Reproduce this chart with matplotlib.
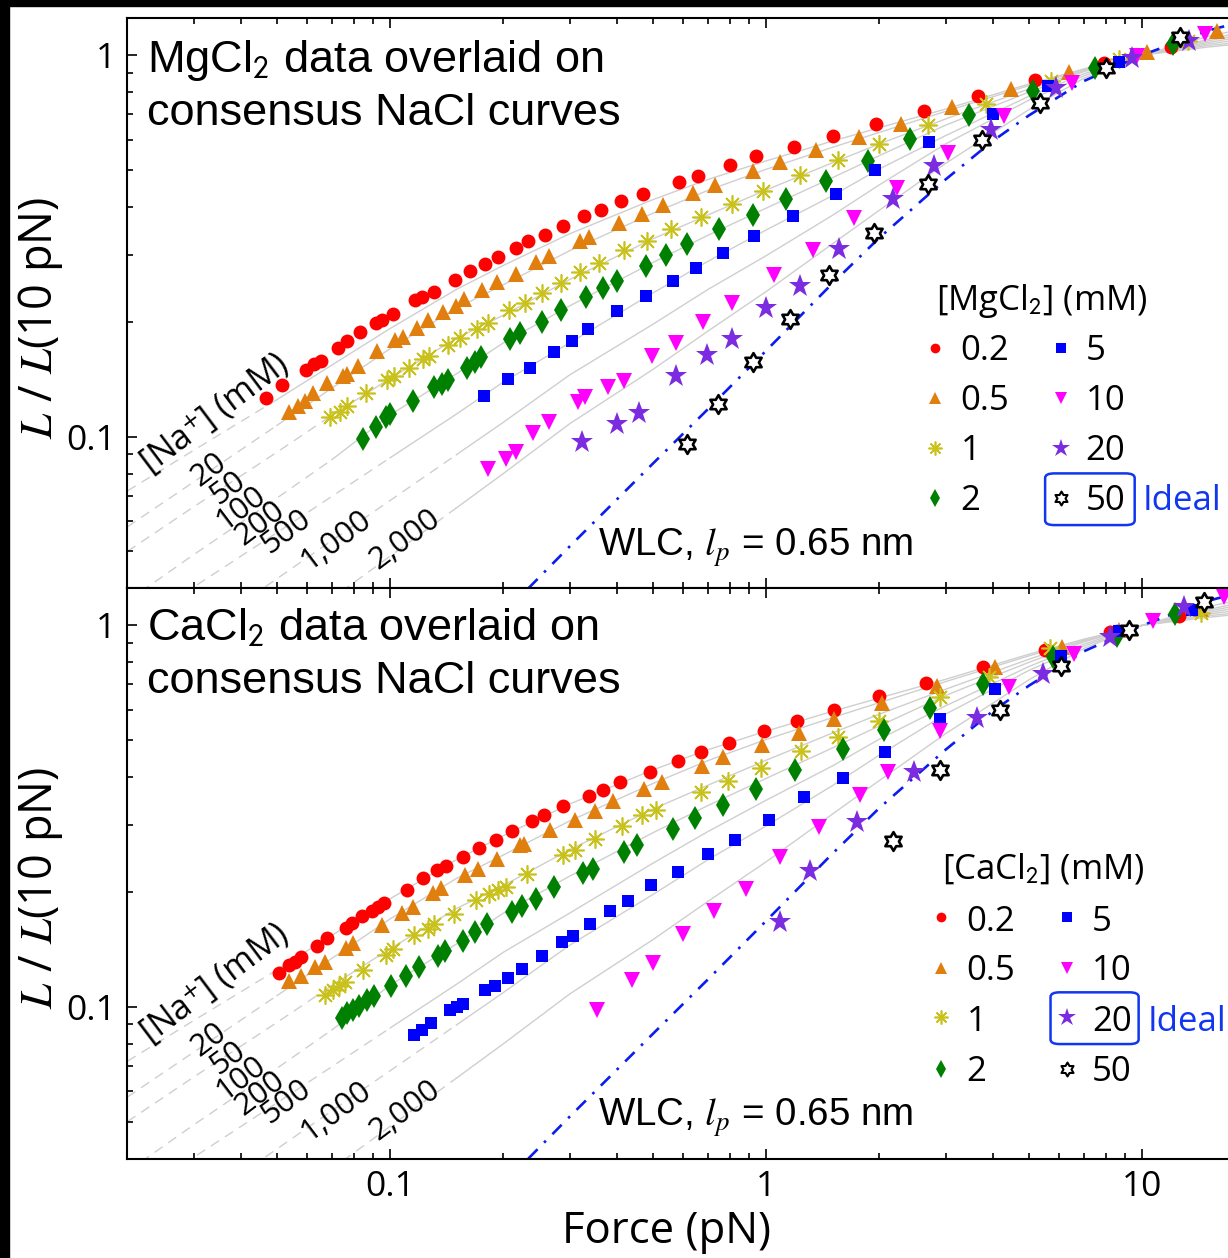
import numpy as np
import matplotlib
matplotlib.use('Agg')
import matplotlib.pyplot as plt
from matplotlib.path import Path
from matplotlib.patches import FancyBboxPatch, Rectangle
from matplotlib.ticker import LogLocator, NullFormatter

plt.rcParams['font.family'] = ['Open Sans', 'DejaVu Sans']
plt.rcParams['mathtext.fontset'] = 'stix'

# ---- consensus NaCl curves ----
nacl_labels = ['20', '50', '100', '200', '500', '1,000', '2,000']
curve_force = [0.02, 0.03, 0.05, 0.07, 0.1, 0.15, 0.2, 0.3, 0.5, 0.7, 1, 1.5, 2, 3, 5, 7, 10, 15, 20]
nacl_20 = [0.072, 0.092, 0.125, 0.154, 0.192, 0.243, 0.281, 0.340, 0.418, 0.472, 0.528, 0.595, 0.645, 0.722, 0.840, 0.920, 1.0, 1.05, 1.08]
nacl_50 = [0.058, 0.076, 0.107, 0.134, 0.170, 0.217, 0.250, 0.307, 0.385, 0.442, 0.502, 0.573, 0.627, 0.712, 0.832, 0.915, 1.0, 1.06, 1.09]
nacl_100 = [0.050, 0.0654, 0.091, 0.1137, 0.142, 0.181, 0.208, 0.258, 0.330, 0.381, 0.443, 0.522, 0.585, 0.680, 0.815, 0.910, 1.0, 1.07, 1.11]
nacl_200 = [0.037, 0.049, 0.069, 0.087, 0.114, 0.146, 0.176, 0.220, 0.286, 0.337, 0.397, 0.477, 0.545, 0.655, 0.800, 0.905, 1.0, 1.08, 1.13]
nacl_500 = [0.031, 0.0403, 0.056, 0.0697, 0.088, 0.1145, 0.139, 0.176, 0.238, 0.288, 0.348, 0.428, 0.503, 0.615, 0.780, 0.893, 1.0, 1.09, 1.15]
nacl_1000 = [0.023, 0.030, 0.0424, 0.0534, 0.068, 0.0896, 0.109, 0.145, 0.197, 0.243, 0.298, 0.380, 0.457, 0.585, 0.762, 0.882, 1.0, 1.10, 1.17]
nacl_2000 = [0.015, 0.0205, 0.0295, 0.0376, 0.0486, 0.065, 0.080, 0.108, 0.150, 0.189, 0.240, 0.320, 0.392, 0.520, 0.720, 0.870, 1.0, 1.12, 1.19]
nacl_curves = [nacl_20, nacl_50, nacl_100, nacl_200, nacl_500, nacl_1000, nacl_2000]
solid_from = [0.05, 0.05, 0.07, 0.07, 0.1, 0.15, 0.15]

# ideal WLC, lp = 0.65 nm
wlc_force = [0.233, 0.3, 0.5, 0.7, 1, 1.5, 2, 3, 4, 5, 7, 10, 15, 20]
wlc_ext = [0.040, 0.0515, 0.085, 0.118, 0.168, 0.252, 0.332, 0.472, 0.595, 0.695, 0.855, 1.0, 1.16, 1.25]

conc_labels = ['0.2', '0.5', '1', '2', '5', '10', '20', '50']

# ---- MgCl2 data ----
mg_02_f = [0.0467, 0.0517, 0.0598, 0.0628, 0.0654, 0.0726, 0.0768, 0.0831, 0.0916, 0.0954, 0.102, 0.1166, 0.1214, 0.1307, 0.1489, 0.1633, 0.1789, 0.1941, 0.216, 0.2332, 0.2584, 0.289, 0.3275, 0.3641, 0.4108, 0.4717, 0.5881, 0.6568, 0.8022, 0.9406, 1.187, 1.51, 1.962, 2.627, 3.648, 5.184, 7.91, 11.92]
mg_02_y = [0.1263, 0.1368, 0.1495, 0.155, 0.1581, 0.1703, 0.1777, 0.1883, 0.1981, 0.202, 0.2091, 0.228, 0.2317, 0.2396, 0.2572, 0.2716, 0.2833, 0.296, 0.3125, 0.3248, 0.3373, 0.356, 0.3781, 0.3928, 0.4148, 0.4311, 0.4662, 0.4834, 0.5164, 0.5429, 0.5743, 0.6152, 0.6587, 0.7152, 0.7795, 0.8602, 0.953, 1.052]
mg_05_f = [0.0539, 0.057, 0.0594, 0.0625, 0.0678, 0.0751, 0.077, 0.082, 0.092, 0.103, 0.108, 0.118, 0.126, 0.1386, 0.15, 0.157, 0.175, 0.192, 0.216, 0.244, 0.265, 0.32, 0.338, 0.405, 0.468, 0.531, 0.64, 0.73, 0.92, 1.09, 1.36, 1.77, 2.29, 3.12, 4.48, 6.4, 10.3, 15.8]
mg_05_y = [0.1163, 0.1203, 0.124, 0.1297, 0.1384, 0.1444, 0.146, 0.153, 0.1672, 0.179, 0.182, 0.192, 0.2024, 0.2125, 0.2203, 0.229, 0.2425, 0.2548, 0.267, 0.286, 0.2975, 0.325, 0.333, 0.362, 0.383, 0.404, 0.436, 0.456, 0.497, 0.523, 0.565, 0.61, 0.661, 0.729, 0.813, 0.903, 1.016, 1.155]
mg_1_f = [0.0693, 0.0736, 0.077, 0.0862, 0.098, 0.1025, 0.1125, 0.122, 0.127, 0.1425, 0.153, 0.17, 0.182, 0.207, 0.228, 0.254, 0.284, 0.32, 0.36, 0.419, 0.481, 0.56, 0.669, 0.81, 0.98, 1.23, 1.55, 1.99, 2.7, 3.85, 5.73, 8.7, 13.2]
mg_1_y = [0.1124, 0.116, 0.1201, 0.1297, 0.1405, 0.1437, 0.1517, 0.1598, 0.1628, 0.174, 0.181, 0.191, 0.1983, 0.2147, 0.2242, 0.2383, 0.2523, 0.2698, 0.2857, 0.308, 0.3262, 0.3497, 0.3754, 0.408, 0.441, 0.484, 0.53, 0.584, 0.655, 0.746, 0.855, 0.976, 1.088]
mg_2_f = [0.0845, 0.0918, 0.0976, 0.1, 0.1153, 0.131, 0.137, 0.1425, 0.16, 0.168, 0.174, 0.208, 0.221, 0.254, 0.285, 0.332, 0.368, 0.4, 0.48, 0.54, 0.617, 0.75, 0.92, 1.13, 1.44, 1.86, 2.42, 3.46, 5.13, 7.5, 12.1]
mg_2_y = [0.0987, 0.1057, 0.1124, 0.1144, 0.124, 0.1346, 0.1373, 0.1404, 0.1517, 0.157, 0.162, 0.18, 0.1873, 0.1995, 0.2147, 0.2319, 0.2445, 0.256, 0.28, 0.2995, 0.3195, 0.3497, 0.382, 0.42, 0.468, 0.528, 0.604, 0.695, 0.805, 0.927, 1.071]
mg_5_f = [0.178, 0.206, 0.236, 0.273, 0.304, 0.335, 0.4, 0.479, 0.566, 0.649, 0.77, 0.93, 1.18, 1.53, 1.95, 2.71, 4.0, 5.63, 8.7]
mg_5_y = [0.128, 0.1413, 0.151, 0.1665, 0.1777, 0.1919, 0.2135, 0.233, 0.2551, 0.2762, 0.3034, 0.336, 0.379, 0.432, 0.499, 0.59, 0.699, 0.828, 0.959]
mg_10_f = [0.182, 0.203, 0.216, 0.24, 0.264, 0.316, 0.33, 0.379, 0.419, 0.498, 0.575, 0.68, 0.81, 1.05, 1.33, 1.71, 2.23, 3.05, 4.3, 6.5, 9.7, 14.7]
mg_10_y = [0.0824, 0.0873, 0.0911, 0.102, 0.109, 0.1234, 0.127, 0.135, 0.14, 0.1626, 0.1756, 0.1996, 0.2243, 0.2646, 0.308, 0.373, 0.447, 0.555, 0.691, 0.845, 0.992, 1.133]
mg_20_f = [0.323, 0.402, 0.458, 0.576, 0.695, 0.81, 0.996, 1.23, 1.56, 2.17, 2.8, 3.97, 5.9, 9.4, 13.3]
mg_20_y = [0.0967, 0.1079, 0.1151, 0.1442, 0.1636, 0.1802, 0.2169, 0.2484, 0.3094, 0.4191, 0.5123, 0.635, 0.82, 0.982, 1.088]
mg_50_f = [0.617, 0.745, 0.92, 1.16, 1.47, 1.94, 2.7, 3.75, 5.34, 8.0, 12.6]
mg_50_y = [0.0957, 0.1218, 0.1571, 0.2029, 0.2651, 0.3427, 0.4587, 0.6005, 0.749, 0.927, 1.115]

# ---- CaCl2 data ----
ca_02_f = [0.0505, 0.0539, 0.0558, 0.0579, 0.0637, 0.0678, 0.0764, 0.0791, 0.0844, 0.0897, 0.0927, 0.0962, 0.1108, 0.1226, 0.1336, 0.1409, 0.1566, 0.1724, 0.1914, 0.2114, 0.2382, 0.2568, 0.289, 0.3369, 0.3679, 0.4073, 0.4915, 0.5822, 0.6716, 0.7987, 0.988, 1.207, 1.517, 2.001, 2.658, 3.765, 5.53, 8.19, 12.52]
ca_02_y = [0.1227, 0.1286, 0.1311, 0.1347, 0.1442, 0.1511, 0.1614, 0.1659, 0.1727, 0.1784, 0.1827, 0.1872, 0.2029, 0.2176, 0.228, 0.2335, 0.247, 0.2608, 0.2744, 0.2884, 0.3062, 0.3175, 0.3352, 0.3568, 0.3692, 0.3882, 0.4123, 0.4406, 0.4651, 0.4922, 0.5278, 0.5628, 0.6016, 0.6527, 0.7079, 0.7764, 0.8623, 0.9587, 1.06]
ca_05_f = [0.0539, 0.058, 0.0632, 0.067, 0.0764, 0.0798, 0.095, 0.1076, 0.1153, 0.1297, 0.1369, 0.1583, 0.1717, 0.1922, 0.2217, 0.2272, 0.2664, 0.3105, 0.351, 0.3925, 0.4728, 0.5289, 0.6738, 0.7698, 0.9727, 1.225, 1.519, 2.038, 2.839, 4.052, 6.118, 8.7, 14.32]
ca_05_y = [0.117, 0.1206, 0.1273, 0.1311, 0.1422, 0.1471, 0.1636, 0.1762, 0.1831, 0.1991, 0.2054, 0.2212, 0.2303, 0.2446, 0.2651, 0.2667, 0.2914, 0.3094, 0.3253, 0.347, 0.3714, 0.3894, 0.4267, 0.4505, 0.4858, 0.5227, 0.5689, 0.6249, 0.6941, 0.7796, 0.8757, 0.975, 1.104]
ca_1_f = [0.067, 0.0704, 0.0731, 0.0759, 0.0849, 0.0974, 0.1017, 0.116, 0.1264, 0.1309, 0.1474, 0.1693, 0.1837, 0.1941, 0.2035, 0.231, 0.289, 0.3105, 0.351, 0.414, 0.4679, 0.5098, 0.6692, 0.7899, 0.9674, 1.24, 1.557, 1.993, 2.895, 3.925, 5.7, 14.3]
ca_1_y = [0.1073, 0.1106, 0.1133, 0.1163, 0.1248, 0.1366, 0.1414, 0.1541, 0.1604, 0.1653, 0.1748, 0.1902, 0.1972, 0.2029, 0.2061, 0.2226, 0.2495, 0.2582, 0.276, 0.2985, 0.3184, 0.3279, 0.3654, 0.3915, 0.4216, 0.468, 0.5105, 0.5618, 0.6508, 0.7307, 0.87, 1.08]
ca_2_f = [0.0745, 0.0768, 0.0798, 0.0828, 0.087, 0.0904, 0.1004, 0.1101, 0.1194, 0.1337, 0.1403, 0.1564, 0.1681, 0.181, 0.2114, 0.224, 0.2439, 0.2734, 0.3266, 0.3473, 0.4174, 0.4533, 0.565, 0.6458, 0.7666, 0.9406, 1.194, 1.598, 2.056, 2.723, 3.765, 5.781, 8.56, 12.22]
ca_2_y = [0.0933, 0.0961, 0.098, 0.1004, 0.1041, 0.1067, 0.1133, 0.1207, 0.1274, 0.1357, 0.1402, 0.1489, 0.1569, 0.1644, 0.1773, 0.1833, 0.1919, 0.2058, 0.2243, 0.2303, 0.2546, 0.2656, 0.2922, 0.3122, 0.3387, 0.373, 0.4165, 0.4747, 0.531, 0.6078, 0.7023, 0.828, 0.94, 1.071]
ca_5_f = [0.1154, 0.1216, 0.1283, 0.1439, 0.1505, 0.1561, 0.1789, 0.1902, 0.2053, 0.2244, 0.2533, 0.2867, 0.3061, 0.3403, 0.3846, 0.4295, 0.4944, 0.5822, 0.7022, 0.8273, 1.017, 1.262, 1.596, 2.064, 2.895, 4.052, 6.069, 8.666, 13.57]
ca_5_y = [0.0846, 0.0871, 0.0905, 0.098, 0.0998, 0.1018, 0.1106, 0.1133, 0.1187, 0.126, 0.1359, 0.1477, 0.1531, 0.1646, 0.1784, 0.1894, 0.2091, 0.2256, 0.2521, 0.2744, 0.3094, 0.3545, 0.3986, 0.4643, 0.5689, 0.6816, 0.833, 0.9685, 1.097]
ca_10_f = [0.3559, 0.4388, 0.5006, 0.6027, 0.726, 0.8825, 1.09, 1.382, 1.78, 2.103, 2.895, 4.437, 6.587, 10.68, 16.5]
ca_10_y = [0.098, 0.1175, 0.1299, 0.1548, 0.1786, 0.2035, 0.2473, 0.2969, 0.36, 0.4123, 0.5278, 0.6911, 0.8415, 1.024, 1.19]
ca_20_f = [1.09, 1.305, 1.744, 2.47, 3.63, 5.437, 8.19, 12.92]
ca_20_y = [0.1669, 0.2266, 0.3049, 0.4123, 0.572, 0.746, 0.93, 1.115]
ca_50_f = [2.168, 2.895, 4.182, 6.069, 9.21, 14.61]
ca_50_y = [0.272, 0.4165, 0.6016, 0.7843, 0.9727, 1.149]

mg_data = [(mg_02_f, mg_02_y), (mg_05_f, mg_05_y), (mg_1_f, mg_1_y), (mg_2_f, mg_2_y),
           (mg_5_f, mg_5_y), (mg_10_f, mg_10_y), (mg_20_f, mg_20_y), (mg_50_f, mg_50_y)]
ca_data = [(ca_02_f, ca_02_y), (ca_05_f, ca_05_y), (ca_1_f, ca_1_y), (ca_2_f, ca_2_y),
           (ca_5_f, ca_5_y), (ca_10_f, ca_10_y), (ca_20_f, ca_20_y), (ca_50_f, ca_50_y)]

# hexagram (star of David) marker
k = np.arange(12)
ang = np.deg2rad(90 + 30 * k)
rad = np.where(k % 2 == 0, 1.0, 1 / np.sqrt(3))
verts = np.column_stack([rad * np.cos(ang), rad * np.sin(ang)])
hexagram = Path(np.vstack([verts, verts[:1]]), closed=True)

IDEAL = '#1036f0'
styles = [
    dict(marker='o', color='#ff0000', ms=10, mew=0),
    dict(marker='^', color='#e07f0e', ms=11.5, mew=0),
    dict(marker=(8, 2, 0), color='#c9c21c', ms=13, mew=1.2),
    dict(marker='d', color='#008000', ms=12, mew=0),
    dict(marker='s', color='#0000ff', ms=8, mew=0),
    dict(marker='v', color='#ff00ff', ms=11.5, mew=0),
    dict(marker='*', color='#7b2be0', ms=17, mew=0),
    dict(marker=hexagram, mfc='white', mec='black', ms=13.5, mew=1.9),
]
legend_ms = [7, 8, 10, 9, 6.5, 8, 13.5, 10]

na_pos = [(0.0724, 0.2076), (0.0896, 0.177), (0.1003, 0.1405), (0.1182, 0.1143),
          (0.1415, 0.0996), (0.1848, 0.0835), (0.2466, 0.0855)]

HEAD_FONT = ['Liberation Sans', 'DejaVu Sans']

fig = plt.figure(figsize=(12.28, 12.58), dpi=100)
ax_top = fig.add_axes([0.1037, 0.5323, 0.9186, 0.4533])
ax_bot = fig.add_axes([0.1037, 0.0790, 0.9186, 0.4533])


def draw_panel(ax, data, salt, lay):
    ax.set_xscale('log')
    ax.set_yscale('log')
    ax.set_xlim(0.02, 20)
    ax.set_ylim(0.04, 1.25)

    for ys, start in zip(nacl_curves, solid_from):
        i = curve_force.index(start)
        ax.plot(curve_force[:i + 1], ys[:i + 1], color='#cfcfcf', lw=1.0,
                ls=(0, (7, 5)), zorder=1)
        ax.plot(curve_force[i:], ys[i:], color='#cfcfcf', lw=1.0, zorder=1)

    ax.plot(wlc_force, wlc_ext, color='#0a1cf0', lw=1.9,
            ls=(0, (5, 3.5, 1, 3.5)), zorder=2)

    for (f, y), st in zip(data, styles):
        ax.plot(f, y, ls='none', zorder=3, **st)

    # axis cosmetics
    ax.set_xticks([0.1, 1, 10])
    ax.set_yticks([0.1, 1])
    ax.set_yticklabels(['0.1', '1'])
    ax.xaxis.set_minor_locator(LogLocator(subs=np.arange(2, 10)))
    ax.yaxis.set_minor_locator(LogLocator(subs=np.arange(2, 10)))
    ax.xaxis.set_minor_formatter(NullFormatter())
    ax.yaxis.set_minor_formatter(NullFormatter())
    ax.tick_params(which='both', direction='in', top=True, right=False,
                   width=1.2, labelsize=25.5)
    ax.tick_params(which='major', length=7.5, pad=8)
    ax.tick_params(which='minor', length=4)
    for s in ax.spines.values():
        s.set_linewidth(1.5)

    # panel header
    ax.text(0.0175, lay['h1'], salt + r'$_\mathsf{2}$ data overlaid on', transform=ax.transAxes,
            family=HEAD_FONT, fontsize=32.5, va='baseline')
    ax.text(0.0175, lay['h2'], 'consensus NaCl curves', transform=ax.transAxes,
            family=HEAD_FONT, fontsize=32.5, va='baseline')

    # [Na+] labels
    ax.text(0.0775, 0.307, r'[Na$^\mathsf{+}$] (mM)', transform=ax.transAxes,
            fontsize=24.5, rotation=37, ha='center', va='center', rotation_mode='anchor')
    for lab, (px, py) in zip(nacl_labels, na_pos):
        ax.text(px, py, lab, transform=ax.transAxes, fontsize=22.5, rotation=37,
                ha='center', va='center', rotation_mode='anchor')

    ax.text(0.4173, 0.0572, r'WLC, $l_p$ = 0.65 nm', transform=ax.transAxes,
            family=HEAD_FONT, fontsize=27.7, va='baseline')

    ax.text(-0.0774, 0.474, r'$L$ / $L$(10 pN)', transform=ax.transAxes,
            fontsize=32.5, rotation=90, ha='center', va='center')

    # legend built by hand
    ax.text(lay['tx'], lay['ty'], '[' + salt + r'$_\mathsf{2}$] (mM)', transform=ax.transAxes,
            fontsize=25, va='baseline')
    for n, (lab, st) in enumerate(zip(conc_labels, styles)):
        col, row = divmod(n, 4)
        st2 = dict(st)
        st2['ms'] = legend_ms[n]
        if n == 7:
            st2['mew'] = 1.5
        ax.plot([lay['mx'][col]], [lay['my'][row]], transform=ax.transAxes, ls='none',
                clip_on=False, **st2)
        ax.text(lay['lx'][col], lay['ly'][row], lab, transform=ax.transAxes, fontsize=25,
                va='baseline')
    x0, x1, y0, y1 = lay['box']
    ax.add_patch(FancyBboxPatch((x0, y0), x1 - x0, y1 - y0, transform=ax.transAxes,
                                boxstyle='round,pad=0,rounding_size=0.008',
                                fc='none', ec=IDEAL, lw=1.8, clip_on=False))
    ax.text(lay['ix'], lay['iy'], 'Ideal', transform=ax.transAxes, fontsize=25,
            color=IDEAL, va='baseline')


top_layout = dict(h1=0.9053, h2=0.812, tx=0.7173, ty=0.488,
                  mx=[0.7159, 0.8273], lx=[0.7386, 0.8494],
                  my=[0.4216, 0.3339, 0.2461, 0.1584],
                  ly=[0.4003, 0.3127, 0.225, 0.1374],
                  box=(0.8136, 0.8930, 0.111, 0.2016), ix=0.9001, iy=0.1374)
bot_layout = dict(h1=0.9093, h2=0.8159, tx=0.7226, ty=0.4915,
                  mx=[0.7215, 0.8327], lx=[0.7439, 0.855],
                  my=[0.4231, 0.3337, 0.2478, 0.1571],
                  ly=[0.3996, 0.3132, 0.2243, 0.1361],
                  box=(0.8184, 0.8965, 0.2009, 0.2916), ix=0.9048, iy=0.2243)

draw_panel(ax_top, mg_data, 'MgCl', top_layout)
draw_panel(ax_bot, ca_data, 'CaCl', bot_layout)

ax_top.set_xticklabels([])
ax_bot.set_xticklabels(['0.1', '1', '10'])
ax_bot.tick_params(axis='x', which='major', pad=8)

fig.text(667 / 1228, 1 - 1243 / 1258, 'Force (pN)', ha='center', va='baseline', fontsize=31.5)

# black border strips of the original crop
fig.patches.append(Rectangle((0, 0), 9 / 1228, 1, transform=fig.transFigure,
                             color='black', zorder=10))
fig.patches.append(Rectangle((0, 1 - 6 / 1258), 1, 6 / 1258, transform=fig.transFigure,
                             color='black', zorder=10))

fig.savefig('out.png', dpi=100)
